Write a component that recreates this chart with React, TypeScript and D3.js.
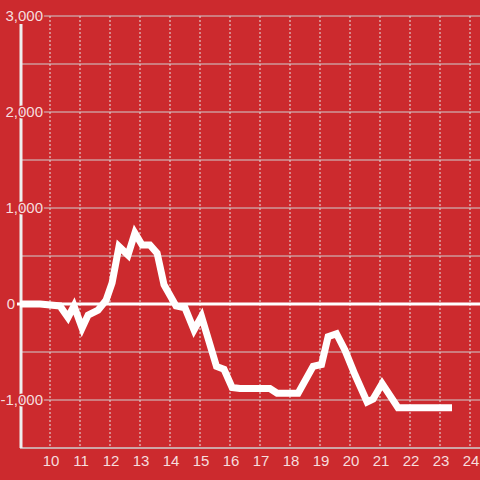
import React from "react";
import * as d3 from "d3";

const times = [9, 9.67, 10.33, 10.6, 10.8, 11.07, 11.27, 11.6, 11.87, 12.07, 12.3, 12.6, 12.83, 13.07, 13.33, 13.57, 13.8, 14.2, 14.5, 14.8, 15.05, 15.55, 15.8, 16.07, 16.33, 17.33, 17.57, 18.27, 18.77, 19.05, 19.27, 19.55, 19.83, 20.17, 20.57, 20.77, 21.07, 21.6, 23.4];
const values = [0, 0, -20, -140, -20, -250, -115, -65, 40, 220, 600, 510, 740, 615, 615, 530, 200, -20, -40, -270, -130, -650, -680, -870, -880, -880, -930, -930, -650, -630, -340, -310, -480, -740, -1020, -990, -830, -1080, -1080];
const yTicks = [3000, 2500, 2000, 1500, 1000, 500, 0, -500, -1000, -1500];
const yLabels = [3000, 2000, 1000, 0, -1000];
const xTicks = [10, 11, 12, 13, 14, 15, 16, 17, 18, 19, 20, 21, 22, 23, 24];

const W = 480, H = 480;
const BG = "#cc2a2e";
const TXT = "rgba(255,255,255,0.85)";

export default function App() {
  const x = d3.scaleLinear().domain([9, 24.333]).range([20, 480]);
  const y = d3.scaleLinear().domain([-1500, 3000]).range([448, 16]);
  const pts = times.map((t, i) => [t, values[i]] as [number, number]);
  const line = d3.line<[number, number]>().x(d => x(d[0])).y(d => y(d[1]));
  const fmt = d3.format(",");
  return (
    <svg width={W} height={H} style={{ position: "fixed", left: 0, top: 0, background: BG }}
      fontFamily="'Liberation Sans', Arial, sans-serif">
      <rect x={0} y={0} width={W} height={H} fill={BG} />
      {xTicks.map(t => (
        <line key={"v" + t} x1={x(t)} x2={x(t)} y1={y(3000)} y2={y(-1500)} stroke="#e6e6e6" strokeWidth={1} strokeDasharray="2,2" />
      ))}
      {yTicks.filter(v => v !== 0 && v !== -1500).map(v => (
        <line key={"h" + v} x1={x(9)} x2={W} y1={y(v)} y2={y(v)} stroke="#cfcfcf" strokeWidth={1} />
      ))}
      <line x1={x(9)} x2={W} y1={y(-1500)} y2={y(-1500)} stroke="#cfcfcf" strokeWidth={1.5} />
      <line x1={x(9) + 1} x2={x(9) + 1} y1={24} y2={y(-1500)} stroke="#eeeeee" strokeWidth={3} />
      <line x1={17} x2={W} y1={y(0)} y2={y(0)} stroke="#ffffff" strokeWidth={3} />
      <path d={line(pts) || ""} fill="none" stroke="#ffffff" strokeWidth={7} strokeLinejoin="miter" strokeMiterlimit={3} />
      {yLabels.map(v => (
        <text key={"yl" + v} x={v === 0 ? 15 : 43} y={y(v)} dy="0.35em" textAnchor="end" fontSize={15}
          fill={TXT} stroke={BG} strokeWidth={3} style={{ paintOrder: "stroke" }}>{fmt(v).replace("−", "-")}</text>
      ))}
      {xTicks.map(t => (
        <text key={"xl" + t} x={x(t) + 1} y={466} textAnchor="middle" fontSize={15} fill={TXT}>{t}</text>
      ))}
    </svg>
  );
}
